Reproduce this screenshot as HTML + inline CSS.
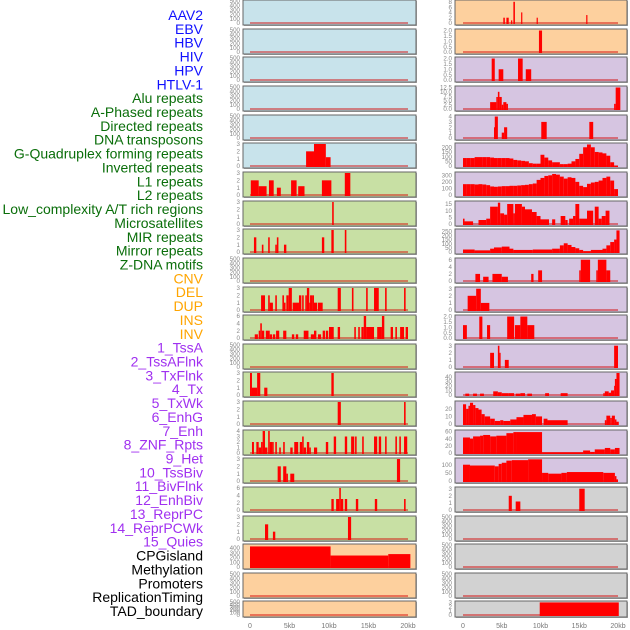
<!DOCTYPE html>
<html><head><meta charset="utf-8"><style>
html,body{margin:0;padding:0;background:#fff;width:630px;height:630px;overflow:hidden}
svg{display:block;font-family:"Liberation Sans",sans-serif}
</style></head><body>
<svg id="chart" width="630" height="630" viewBox="0 0 630 630" xmlns="http://www.w3.org/2000/svg">
<g id="legend"></g>
<g id="panels"></g>
<g id="xaxis"></g>
</svg>
<script>
const legendLabels = ["AAV2","EBV","HBV","HIV","HPV","HTLV-1","Alu repeats","A-Phased repeats","Directed repeats","DNA transposons","G-Quadruplex forming repeats","Inverted repeats","L1 repeats","L2 repeats","Low_complexity A/T rich regions","Microsatellites","MIR repeats","Mirror repeats","Z-DNA motifs","CNV","DEL","DUP","INS","INV","1_TssA","2_TssAFlnk","3_TxFlnk","4_Tx","5_TxWk","6_EnhG","7_Enh","8_ZNF_Rpts","9_Het","10_TssBiv","11_BivFlnk","12_EnhBiv","13_ReprPC","14_ReprPCWk","15_Quies","CPGisland","Methylation","Promoters","ReplicationTiming","TAD_boundary"];
const legendColors = ["#1010ff","#1010ff","#1010ff","#1010ff","#1010ff","#1010ff","#0a6e0a","#0a6e0a","#0a6e0a","#0a6e0a","#0a6e0a","#0a6e0a","#0a6e0a","#0a6e0a","#0a6e0a","#0a6e0a","#0a6e0a","#0a6e0a","#0a6e0a","#ffa500","#ffa500","#ffa500","#ffa500","#ffa500","#a030f0","#a030f0","#a030f0","#a030f0","#a030f0","#a030f0","#a030f0","#a030f0","#a030f0","#a030f0","#a030f0","#a030f0","#a030f0","#a030f0","#a030f0","#000","#000","#000","#000","#000"];
const xTicks = [0,5,10,15,20];
const xTickLabels = ["0","5kb","10kb","15kb","20kb"];

const T500 = [0,100,200,300,400,500];
const T3 = [0,1,2,3];
const leftBg = ["b","b","b","b","b","b","g","g","g","g","g","g","g","g","g","g","g","g","g","o","o","o"];
const leftMax = [500,500,500,500,500,3,3,3,3,500,3,6,500,3,3,4,3,6,3,460,500,500];
const leftTicks = [T500,T500,T500,T500,T500,T3,T3,T3,T3,T500,T3,[0,2,4,6],T500,T3,T3,[0,1,2,3,4],T3,[0,2,4,6],T3,[0,100,200,300,400],T500,T500];
const L5 = [[7.1,8.1,2],[8.1,9.6,3],[9.6,10.2,1.2]];
const L6 = [[0.1,1.1,2],[1.1,2.1,1.2],[2.4,3.0,2],[3.4,3.9,1],[5.2,5.9,2],[6.1,6.9,1.2],[9.1,10.3,2],[12.0,12.7,3]];
const L7 = [[10.4,10.6,3]];
const L8 = [[0.5,0.8,2],[1.5,1.7,1],[2.3,2.5,2],[3.2,3.4,1],[3.4,3.6,2],[4.3,4.6,1],[9.1,9.4,2],[10.3,10.6,3],[12.0,12.2,3]];
const L10 = [[1.4,1.9,2],[2.3,2.5,2],[2.5,2.9,1],[3.2,3.4,2],[4.1,4.3,2],[4.3,4.5,1],[4.6,4.9,2],[4.9,5.3,3],[5.4,6.2,1],[6.2,6.5,2],[6.6,6.8,2],[7.0,7.2,2],[7.2,7.5,3],[7.5,7.6,1],[7.6,7.9,2],[7.9,8.1,2],[8.1,8.5,1],[8.6,9.2,1],[11.1,11.5,3],[12.9,13.1,3],[14.7,14.9,3],[15.7,16.3,3],[17.1,17.3,3],[19.5,19.7,3]];
const L11 = [[0.6,1.0,1],[1.1,1.3,2],[1.3,1.5,4],[1.5,1.8,2],[2.0,2.5,2],[2.5,2.8,1],[2.9,3.2,1],[3.3,3.7,2],[4.2,4.6,2],[5.3,5.6,1],[5.8,6.1,1],[6.8,7.4,2],[7.7,8.1,1],[8.1,8.4,2],[8.6,9.0,1],[9.2,9.5,2],[9.6,9.9,2],[10.0,10.6,3],[11.1,11.4,3],[13.2,13.4,3],[13.7,13.9,3],[14.1,14.4,3],[14.4,14.7,6],[14.7,15.7,3],[16.1,16.7,3],[16.7,17.0,6],[17.8,18.1,3],[18.4,18.6,3],[19.0,19.5,3],[19.7,20.0,3]];
const L13 = [[0,0.25,3],[0.25,0.9,1],[0.9,1.3,3],[1.8,2.2,1],[10.3,10.6,3]];
const L14 = [[11.1,11.5,3],[19.5,19.7,3]];
const L15 = [[0.25,0.5,2],[0.8,1.1,2],[1.1,1.4,1],[1.4,1.6,2],[1.6,1.9,4],[1.9,2.2,1],[2.3,2.5,4],[2.5,2.8,2],[2.8,3.0,2],[3.2,3.4,2],[3.7,3.9,1],[4.2,4.4,2],[5.1,5.4,1],[5.6,6.1,2],[6.3,6.6,2],[6.6,6.8,3],[6.8,7.1,1],[7.2,7.5,2],[7.5,7.7,1],[8.1,8.5,1],[9.6,9.9,2],[10.6,10.9,3],[12.0,12.3,3],[12.8,13.2,3],[13.3,13.5,3],[14.2,14.4,3],[15.7,16.1,3],[16.3,16.6,3],[17.1,17.3,3],[18.4,18.6,3],[18.9,19.1,3],[19.5,19.9,3]];
const L16 = [[3.5,3.9,2],[4.2,4.6,2],[4.6,4.8,1],[5.1,5.6,1],[18.6,19.0,3]];
const L17 = [[10.3,10.6,3],[10.9,11.3,3],[11.3,11.5,6],[11.5,11.8,3],[12.0,12.3,3],[13.4,13.7,3],[15.8,16.1,3],[19.5,19.7,3]];
const L18 = [[1.9,2.3,2],[2.9,3.2,1],[12.4,12.8,3]];
const L19 = [[0,10.2,430],[10.2,17.5,240],[17.5,20.3,270]];
const leftData = [[],[],[],[],[],L5,L6,L7,L8,[],L10,L11,[],L13,L14,L15,L16,L17,L18,L19,[],[]];

const rightBg = ["o","o","p","p","p","p","p","p","p","p","p","p","p","p","p","p","p","x","x","x","x","x"];
const rightMax = [8.3,2.05,2.05,12.8,4.1,235,335,16.5,265,6.2,3.1,2.05,3.1,48,29,61,135,3.1,500,500,500,3.1];
const rightTicks = [[0,2,4,6,8],[0,0.5,1,1.5,2],[0,0.5,1,1.5,2],[0,2.5,5,7.5,10,12.5],[0,1,2,3,4],[0,50,100,150,200],[0,100,200,300],[0,5,10,15],[0,50,100,150,200,250],[0,2,4,6],T3,[0,0.5,1,1.5,2],T3,[0,10,20,30,40],[0,10,20],[0,20,40,60],[0,50,100],T3,T500,T500,T500,T3];
const rightTickDec = [0,1,1,1,0,0,0,0,0,0,0,1,0,0,0,0,0,0,0,0,0,0];
const R0 = [[5.2,5.4,2],[5.6,5.9,2],[6.2,6.3,1],[6.5,6.7,8],[7.5,7.6,4],[9.5,9.6,2],[15.9,16.0,3]];
const R1 = [[9.8,10.2,2]];
const R2 = [[3.7,4.1,2],[4.6,5.2,1],[7.1,7.7,2],[8.1,8.8,1]];
const R3 = [[3.5,4.3,4],[4.3,4.5,7],[4.5,4.7,10],[4.7,5.0,7],[5.0,5.2,2.5],[5.2,5.6,4],[5.6,5.8,3],[19.5,19.7,3],[19.7,20.3,12.5]];
const R4 = [[4.0,4.1,2],[4.1,4.5,4],[5.0,5.3,1],[5.3,5.7,2],[10.1,10.8,3],[16.3,16.8,3]];
const R5bins = [85,85,85,95,95,95,95,90,85,85,85,85,80,65,60,55,50,30,25,25,120,90,60,40,40,20,20,25,50,75,130,200,230,200,150,145,135,110,40,0];
const R6bins = [165,165,165,160,165,160,150,130,125,130,135,135,140,140,145,150,155,165,175,230,260,290,300,320,310,280,250,270,260,200,140,120,170,190,200,220,260,280,220,90];
const R7 = [[0,0.2,4],[0.2,1.3,2],[2.0,3.0,3],[3.0,3.5,4],[3.5,4.5,13],[4.5,4.8,16],[4.8,5.3,8],[5.3,5.7,7],[5.7,6.5,15],[6.5,6.7,8],[6.7,7.6,15],[7.6,8.0,13],[8.0,8.9,11],[8.9,9.5,9],[9.5,10.0,6],[10.0,11.1,3.5],[11.5,11.9,3.5],[12.6,13.2,6],[13.2,13.5,3],[13.7,14.2,4],[14.2,14.5,6],[14.5,15.0,15],[15.0,16.0,4],[16.0,16.8,10],[17.0,17.5,13],[17.5,17.9,4],[17.9,18.4,6],[18.4,18.9,10]];
const R8 = [[0,1.5,30],[1.5,3.5,20],[3.5,4,40],[4,5,55],[5,6,65],[6,6.5,40],[6.5,9,25],[9,11.5,30],[11.5,12.5,40],[12.5,13,80],[13,13.5,105],[13.5,14,85],[14,14.5,60],[14.5,15,45],[15,15.5,25],[15.5,16.5,10],[16.5,18,25],[18,18.5,40],[18.5,19,80],[19,19.5,120],[19.5,19.8,150],[19.8,20.2,260]];
const R9 = [[1.6,2.2,2],[2.6,3.3,1.2],[3.8,5.0,2],[5.0,5.8,1.2],[8.8,9.1,2],[9.7,10.2,3],[15.0,15.2,3],[15.2,16.4,6],[17.2,17.4,3],[17.4,18.5,6],[18.5,19.0,3]];
const R10 = [[0.6,1.7,2],[1.7,2.3,3],[2.3,3.4,1]];
const R11 = [[0,0.5,1.2],[2.1,2.5,2],[3.1,3.5,1.2],[5.7,6.6,2],[6.7,7.4,1.2],[7.4,8.3,2],[8.3,9.2,1.2]];
const R12 = [[3.5,4.0,2],[4.5,4.7,3],[4.7,4.8,2],[5.4,5.9,1],[19.5,20.0,3]];
const R13 = [[0.3,0.8,3],[1.3,1.8,3],[2.2,2.7,3],[3.9,4.5,8],[4.5,5.0,6],[5.0,5.9,4],[5.9,6.6,4],[6.8,7.4,3],[7.4,8.0,4],[8.3,8.9,3],[10.6,11.1,4],[12.6,13.5,4],[18.1,18.3,4],[18.3,18.8,8],[18.8,19.1,5],[19.1,19.5,10],[19.5,19.6,20],[19.6,19.8,35],[19.8,20.2,48]];
const R14 = [[0,0.4,26],[0.4,0.7,20],[0.7,0.9,24],[0.9,1.3,28],[1.3,1.6,25],[1.6,2.0,21],[2.0,2.4,19],[2.4,2.8,13],[2.8,3.5,10],[3.5,4.1,7],[4.1,4.8,4],[4.8,5.2,5],[5.2,6.1,4],[6.1,6.9,6],[6.9,7.8,9],[7.8,8.9,12],[8.9,9.4,13],[9.4,10.2,10],[10.4,10.9,7],[10.9,13.5,5],[18.3,18.5,5],[18.5,19.0,11],[19.0,19.2,8],[19.2,19.6,11],[19.6,19.8,6],[19.8,20.1,3]];
const R15 = [[0,0.9,43],[0.9,1.3,40],[1.3,2.2,46],[2.2,2.6,48],[2.6,3.5,50],[3.5,4.3,46],[4.3,5.6,48],[5.6,6.5,55],[6.5,6.9,58],[6.9,10.2,58],[10.2,15.5,2],[15.5,16.4,7],[16.4,17.0,3],[17.0,18.3,10],[18.3,19.0,14],[19.0,19.6,10],[19.6,20.2,14]];
const R16 = [[0,0.9,100],[0.9,4.1,95],[4.1,4.6,90],[4.6,5.0,105],[5.0,5.6,112],[5.6,6.3,125],[6.3,8.4,128],[8.4,10.2,133],[10.2,11.0,50],[11.0,12.7,45],[12.7,13.4,50],[13.4,18.1,55],[18.1,19.6,50],[19.6,19.8,30],[19.8,20.0,10]];
const R17 = [[5.9,6.3,2],[6.8,7.4,1.2],[15.0,15.7,3]];
const R21 = [[9.9,20.1,3]];

const NS = "http://www.w3.org/2000/svg";
function mk(tag, attrs, parent){ const e=document.createElementNS(NS,tag); for(const k in attrs) e.setAttribute(k,attrs[k]); parent.appendChild(e); return e; }
function binsToSegs(bins){ return bins.map((v,i)=>[i*0.5,(i+1)*0.5,v]); }
const rightData = [R0,R1,R2,R3,R4,binsToSegs(R5bins),binsToSegs(R6bins),R7,R8,R9,R10,R11,R12,R13,R14,R15,R16,R17,[],[],[],R21];

const bgColors = {b:"#c8e3eb",g:"#c8e0a4",o:"#fdd09e",p:"#d6c5e1",x:"#d2d2d2"};

// legend
const lg = document.getElementById("legend");
legendLabels.forEach((t,i)=>{
  const el = mk("text",{x:203,y:20+i*13.86,"text-anchor":"end","font-size":"14",fill:legendColors[i]},lg);
  el.textContent = t;
  
  
});

const pg = document.getElementById("panels");
function rowTop(i){ return i<21 ? Math.round(i*28.65) : 601; }
function rowH(i){ return i<21 ? 25 : 16; }

function drawPanel(side, i, x0, x1, kb0, ppk, bg, maxV, ticks, segs, dec){
  const top=rowTop(i), h=rowH(i);
  const g = mk("g",{},pg);
  
  
  const yS = v => top+h-2 - v/maxV*(h-3);
  const xS = kb => Math.max(x0+1, Math.min(x1-1, kb0 + kb*ppk));
  mk("rect",{x:x0+1,y:top+1,width:x1-x0,height:h,fill:"#aaa"},g);
  const bgR = mk("rect",{x:x0,y:top,width:x1-x0,height:h,fill:bgColors[bg],stroke:"#666","stroke-width":1},g);
  
  
  mk("line",{x1:xS(0),x2:xS(20),y1:top+h-2,y2:top+h-2,stroke:"rgba(210,0,0,0.45)","stroke-width":2},g);
  segs.forEach(s=>{
    const xa=xS(s[0]), xb=xS(s[1]), y=yS(s[2]);
    const r = mk("rect",{x:xa,y:y,width:Math.max(1.2,xb-xa),height:Math.max(0,top+h-1-y),fill:"#ff0000"},g);
    
    
  });
  ticks.forEach(t=>{
    const tx = mk("text",{x:x0-3,y:yS(t)+2.2,"text-anchor":"end","font-size":"6.2",fill:"#888"},g);
    tx.textContent = dec ? t.toFixed(1) : String(t);
    
    
  });
}
for(let i=0;i<22;i++){
  drawPanel("left", i, 243, 416, 250, 7.9, leftBg[i], leftMax[i], leftTicks[i], leftData[i], 0);
  drawPanel("right", i, 455, 627, 463, 7.75, rightBg[i], rightMax[i], rightTicks[i], rightData[i], rightTickDec[i]);
}
const xa = document.getElementById("xaxis");
[[250,7.9],[463,7.75]].forEach(([k0,p])=>{
  xTicks.forEach((t,j)=>{
    const tx = mk("text",{x:k0+t*p,y:628,"text-anchor":"middle","font-size":"7",fill:"#777"},xa);
    tx.textContent = xTickLabels[j];
    
    
  });
});
</script>
</body></html>
